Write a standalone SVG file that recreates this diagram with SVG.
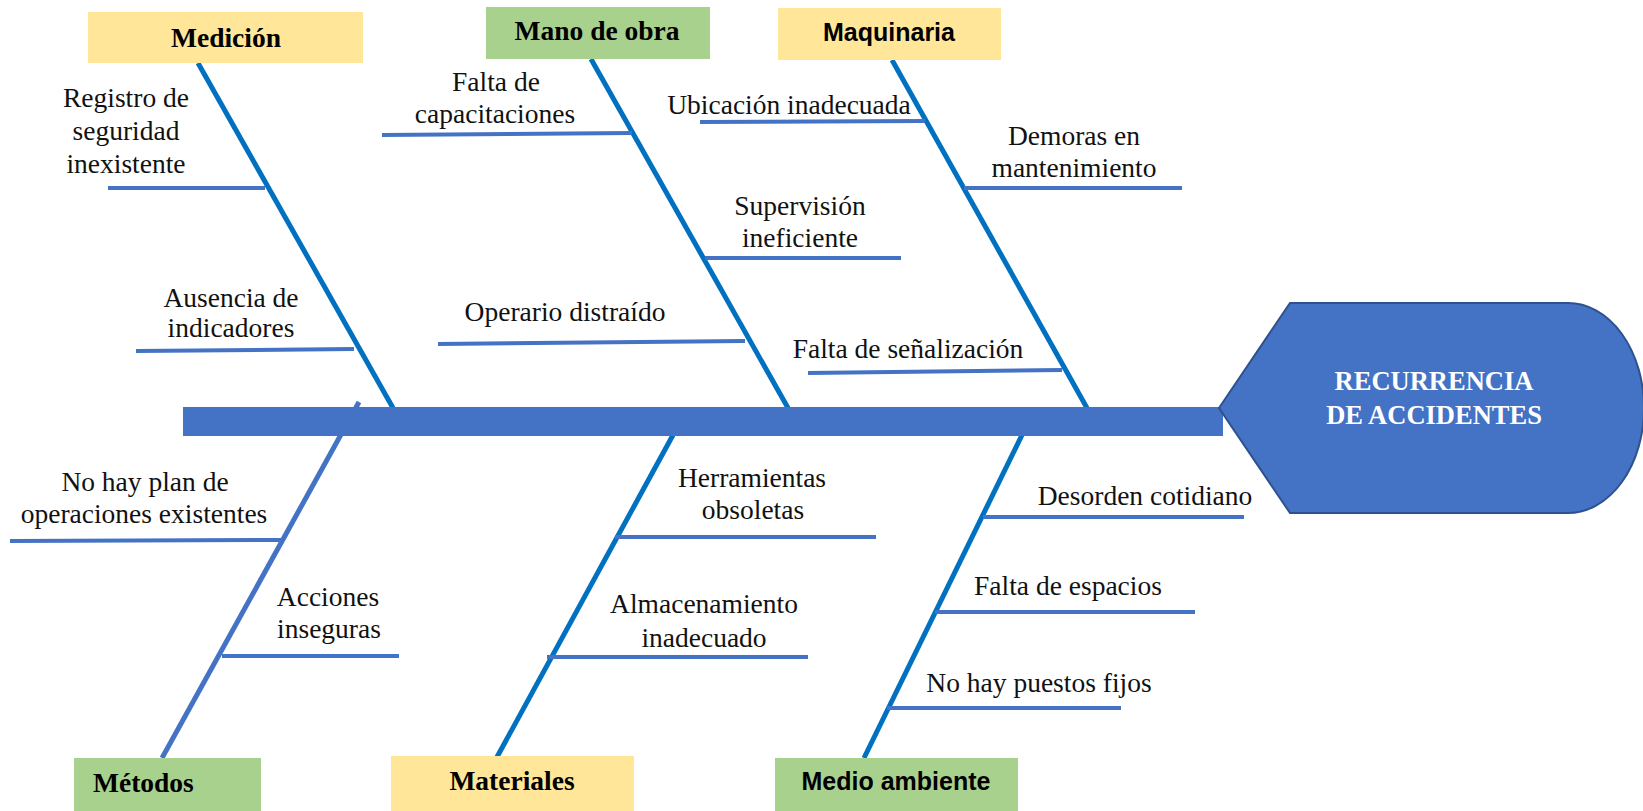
<svg xmlns="http://www.w3.org/2000/svg" width="1643" height="811" viewBox="0 0 1643 811">
<style>
.lbl{font-family:"Liberation Serif","Times New Roman",serif;font-size:27.5px;fill:#111;text-anchor:middle}
.cat{font-family:"Liberation Serif","Times New Roman",serif;font-size:27.5px;font-weight:bold;fill:#000;text-anchor:middle}
.cats{font-family:"Liberation Sans",Arial,sans-serif;font-size:25px;font-weight:bold;fill:#000;text-anchor:middle}
.head{font-family:"Liberation Serif","Times New Roman",serif;font-size:26.5px;font-weight:bold;fill:#fff;text-anchor:middle}
.bone{stroke:#0070C0;stroke-width:5;fill:none}
.sub{stroke:#4472C4;stroke-width:4;fill:none}
.yel{fill:#FFE699}
.grn{fill:#A9D18E}
</style>
<g id="connectors">
<line class="bone" x1="198" y1="63" x2="393" y2="408"/>
<line class="bone" x1="591" y1="59" x2="788" y2="408"/>
<line class="bone" x1="892" y1="60" x2="1087" y2="408"/>
<line x1="162" y1="758" x2="359" y2="402" stroke="#4472C4" stroke-width="5"/>
<line class="bone" x1="497" y1="757" x2="673" y2="435"/>
<line class="bone" x1="864" y1="758" x2="1022" y2="435"/>
<rect x="183" y="407" width="1040" height="29" fill="#4472C4"/>
<line class="sub" x1="108" y1="188" x2="265" y2="188"/>
<line class="sub" x1="136" y1="351" x2="354" y2="349"/>
<line class="sub" x1="382" y1="135" x2="632" y2="133"/>
<line class="sub" x1="438" y1="344" x2="745" y2="341"/>
<line class="sub" x1="705" y1="258" x2="901" y2="258"/>
<line class="sub" x1="700" y1="122" x2="925" y2="121"/>
<line class="sub" x1="964" y1="188" x2="1182" y2="188"/>
<line class="sub" x1="808" y1="373" x2="1062" y2="370"/>
<line class="sub" x1="10" y1="541" x2="282" y2="540"/>
<line class="sub" x1="222" y1="656" x2="399" y2="656"/>
<line class="sub" x1="615" y1="537" x2="876" y2="537"/>
<line class="sub" x1="547" y1="657" x2="808" y2="657"/>
<line class="sub" x1="983" y1="517" x2="1244" y2="517"/>
<line class="sub" x1="935" y1="612" x2="1195" y2="612"/>
<line class="sub" x1="887" y1="708" x2="1121" y2="708"/>
</g>
<g id="head">
<path d="M1219,408 L1290,303 L1568,303 A76,105 0 0 1 1568,513 L1290,513 Z" fill="#4472C4" stroke="#2F528F" stroke-width="2"/>
<text class="head" x="1434" y="390">RECURRENCIA</text>
<text class="head" x="1434" y="424">DE ACCIDENTES</text>
</g>
<g id="medicion"><rect class="yel" x="88" y="12" width="275" height="51"/><text class="cat" x="226" y="47">Medición</text></g>
<g id="mano-de-obra"><rect class="grn" x="486" y="7" width="224" height="52"/><text class="cat" x="597" y="40">Mano de obra</text></g>
<g id="maquinaria"><rect class="yel" x="778" y="8" width="223" height="52"/><text class="cats" x="889" y="41">Maquinaria</text></g>
<g id="metodos"><rect class="grn" x="74" y="758" width="187" height="60"/><text class="cat" x="93" y="792" style="text-anchor:start">Métodos</text></g>
<g id="materiales"><rect class="yel" x="391" y="756" width="243" height="60"/><text class="cat" x="512" y="790">Materiales</text></g>
<g id="medio-ambiente"><rect class="grn" x="775" y="758" width="243" height="60"/><text class="cats" x="896" y="790">Medio ambiente</text></g>
<g id="c-registro"><text class="lbl" x="126" y="107">Registro de</text><text class="lbl" x="126" y="140">seguridad</text><text class="lbl" x="126" y="173">inexistente</text></g>
<g id="c-ausencia"><text class="lbl" x="231" y="307">Ausencia de</text><text class="lbl" x="231" y="337">indicadores</text></g>
<g id="c-capacitaciones"><text class="lbl" x="496" y="91">Falta de</text><text class="lbl" x="495" y="123">capacitaciones</text></g>
<g id="c-operario"><text class="lbl" x="565" y="321">Operario distraído</text></g>
<g id="c-supervision"><text class="lbl" x="800" y="215">Supervisión</text><text class="lbl" x="800" y="247">ineficiente</text></g>
<g id="c-ubicacion"><text class="lbl" x="789" y="114">Ubicación inadecuada</text></g>
<g id="c-demoras"><text class="lbl" x="1074" y="145">Demoras en</text><text class="lbl" x="1074" y="177">mantenimiento</text></g>
<g id="c-senalizacion"><text class="lbl" x="908" y="358">Falta de señalización</text></g>
<g id="c-plan"><text class="lbl" x="145" y="491">No hay plan de</text><text class="lbl" x="144" y="523">operaciones existentes</text></g>
<g id="c-acciones"><text class="lbl" x="328" y="606">Acciones</text><text class="lbl" x="329" y="638">inseguras</text></g>
<g id="c-herramientas"><text class="lbl" x="752" y="487">Herramientas</text><text class="lbl" x="753" y="519">obsoletas</text></g>
<g id="c-almacenamiento"><text class="lbl" x="704" y="613">Almacenamiento</text><text class="lbl" x="704" y="647">inadecuado</text></g>
<g id="c-desorden"><text class="lbl" x="1145" y="505">Desorden cotidiano</text></g>
<g id="c-espacios"><text class="lbl" x="1068" y="595">Falta de espacios</text></g>
<g id="c-puestos"><text class="lbl" x="1039" y="692">No hay puestos fijos</text></g>
</svg>
